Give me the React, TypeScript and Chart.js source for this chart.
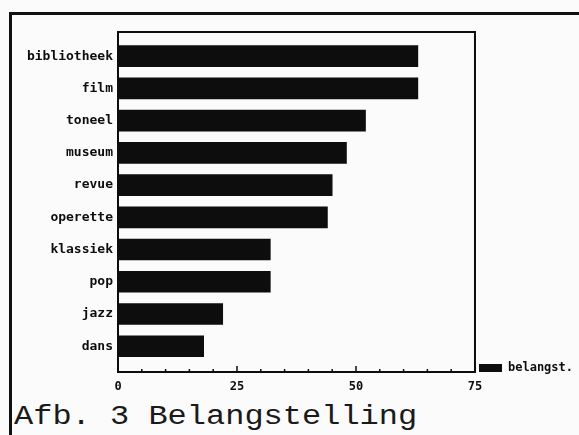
import React, { useEffect, useRef } from "react";
import { Chart, registerables } from "chart.js";

Chart.register(...registerables);

const categories = [
  "bibliotheek",
  "film",
  "toneel",
  "museum",
  "revue",
  "operette",
  "klassiek",
  "pop",
  "jazz",
  "dans",
];
const belangstelling = [63, 63, 52, 48, 45, 44, 32, 32, 22, 18];
const seriesLabel = "belangst.";
const xTickLabels = [0, 25, 50, 75];
const caption = "Afb. 3 Belangstelling";

const INK = "#0d0d0d";
const monoBold = (size: number) => ({
  family: "'DejaVu Sans Mono', monospace",
  size,
  weight: "bold" as const,
});

const frameAndTicks = {
  id: "frameAndTicks",
  afterLayout(chart: any) {
    // the legend sits level with the bottom of the plot box
    if (chart.legend) {
      chart.legend.top += 6;
      chart.legend.bottom += 6;
    }
  },
  afterDraw(chart: any) {
    const { ctx, chartArea } = chart;
    const xs = chart.scales.x;
    ctx.save();
    ctx.strokeStyle = INK;
    ctx.lineWidth = 2;
    ctx.strokeRect(
      chartArea.left,
      chartArea.top,
      chartArea.right - chartArea.left,
      chartArea.bottom - chartArea.top
    );
    ctx.lineWidth = 1.5;
    for (const t of xs.ticks) {
      const px = xs.getPixelForValue(t.value);
      const len = t.value % 25 === 0 ? 6 : 3;
      ctx.beginPath();
      ctx.moveTo(px, chartArea.bottom);
      ctx.lineTo(px, chartArea.bottom - len);
      ctx.stroke();
    }
    ctx.restore();
  },
};

export default function App() {
  const ref = useRef<HTMLCanvasElement | null>(null);
  useEffect(() => {
    if (!ref.current) return;
    const chart = new Chart(ref.current, {
      type: "bar",
      data: {
        datasets: [
          {
            label: seriesLabel,
            data: belangstelling.map((v, i) => ({ x: v, y: i })),
            backgroundColor: INK,
            borderWidth: 0,
            barThickness: 21,
          },
        ],
      },
      options: {
        animation: false,
        responsive: false,
        indexAxis: "y",
        layout: { padding: { top: 32, left: 0, right: -4, bottom: 0 } },
        scales: {
          x: {
            type: "linear",
            min: 0,
            max: 75,
            offset: false,
            grid: { display: false },
            border: { display: false },
            ticks: {
              stepSize: 5,
              color: INK,
              font: monoBold(12),
              autoSkip: false,
              maxRotation: 0,
              padding: 0,
              callback: (v: any) => (xTickLabels.includes(v) ? String(v) : ""),
            },
            afterFit: (axis: any) => {
              axis.height = 28;
            },
          },
          y: {
            type: "linear",
            reverse: true,
            offset: false,
            min: -0.75,
            max: 9.8,
            grid: { display: false, drawTicks: false },
            border: { display: false },
            afterBuildTicks: (axis: any) => {
              axis.ticks = categories.map((_, i) => ({ value: i }));
            },
            ticks: {
              color: INK,
              font: monoBold(13),
              padding: 5,
              autoSkip: false,
              callback: (v: any) => categories[v] ?? "",
            },
            afterFit: (axis: any) => {
              axis.width = 118;
            },
          },
        },
        plugins: {
          legend: {
            position: "right",
            align: "end",
            fullSize: false,
            labels: {
              boxWidth: 23,
              boxHeight: 8,
              color: INK,
              font: monoBold(12),
              padding: 4,
            },
          },
          tooltip: { enabled: false },
        },
      },
      plugins: [frameAndTicks],
    });
    return () => chart.destroy();
  }, []);

  return (
    <div
      style={{
        position: "absolute",
        left: 0,
        top: 0,
        width: 579,
        height: 435,
        background: "#fbfbfb",
        overflow: "hidden",
      }}
    >
      <canvas
        ref={ref}
        width={579}
        height={400}
        style={{ position: "absolute", left: 0, top: 0, width: 579, height: 400 }}
      />
      <div style={{ position: "absolute", left: 9, top: 12, width: 570, height: 3, background: "#111" }} />
      <div style={{ position: "absolute", left: 9, top: 12, width: 3, height: 423, background: "#111" }} />
      <div
        style={{
          position: "absolute",
          left: 14,
          top: 404,
          fontFamily: "'Liberation Mono', 'Courier New', monospace",
          fontSize: 27,
          lineHeight: "27px",
          color: "#1a1a1a",
          whiteSpace: "nowrap",
          transform: "scaleX(1.185)",
          transformOrigin: "left top",
        }}
      >
        {caption}
      </div>
    </div>
  );
}
